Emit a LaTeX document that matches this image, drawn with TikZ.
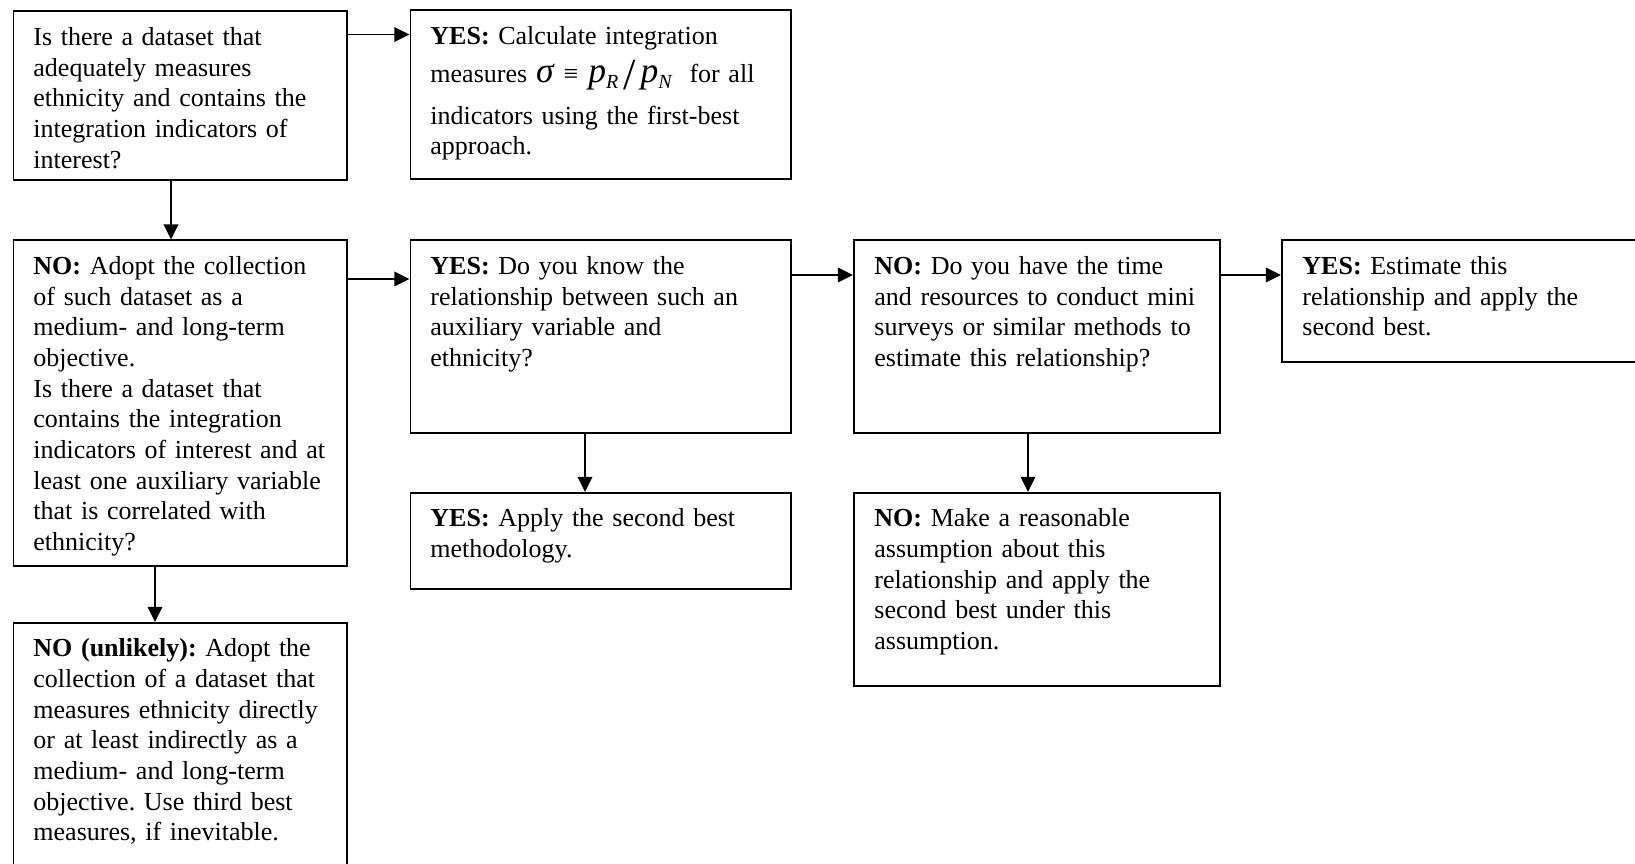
\documentclass[tikz,border=0pt]{standalone}
\usepackage{fontspec}
\setmainfont{Liberation Serif}
\usetikzlibrary{arrows.meta,calc}
\newcommand{\bigit}[1]{{\fontsize{16}{16}\selectfont\itshape #1}}
\newcommand{\subit}[1]{\raisebox{-2.8pt}{\fontsize{9}{9}\selectfont\itshape #1}}
\begin{document}
\frenchspacing
\begin{tikzpicture}[x=0.45pt,y=-0.45pt,
  box/.style={draw, line width=0.8pt, rectangle, inner sep=0pt, anchor=north west},
  txt/.style={anchor=base west, inner sep=0pt, align=left, text width=#1,
    font=\fontsize{11.7}{13.8}\selectfont\frenchspacing},
  txt/.default=140pt,
  arr/.style={line width=0.65pt, -{Triangle[length=6.8pt,width=6.6pt]}}]
\useasboundingbox (0,0) rectangle (1635,864);
\clip (0,0) rectangle (1635,864);

% boxes
\node[box, minimum width=150.1pt, minimum height=75.9pt] (A) at (12.5,10.4) {};
\node[box, minimum width=171.4pt, minimum height=76.0pt] (B) at (409.5,9.5) {};
\node[box, minimum width=150.1pt, minimum height=146.7pt] (C) at (12.5,239.5) {};
\node[box, minimum width=171.4pt, minimum height=86.6pt] (D) at (409.5,239.5) {};
\node[box, minimum width=171.4pt, minimum height=43.4pt] (E) at (409.5,492) {};
\node[box, minimum width=164.7pt, minimum height=86.6pt] (F) at (853,239.5) {};
\node[box, minimum width=185pt, minimum height=54.7pt] (G) at (1281,239.5) {};
\node[box, minimum width=164.7pt, minimum height=86.9pt] (H) at (853,492) {};
\node[box, minimum width=150.1pt, minimum height=120pt] (I) at (12.5,622) {};

% texts
\node[txt] (At) at ($(A.north west)+(20.5,35)$) {Is there a dataset that\\adequately measures\\ethnicity and contains the\\integration indicators of\\interest?};
\node[txt=170pt] (Bt) at ($(B.north west)+(20.5,35)$) {\textbf{YES:} Calculate integration\\[3.2pt]
measures\hspace{4pt}\raisebox{0pt}[0pt][0pt]{\bigit{σ}\hspace{4.5pt}≡\hspace{4.5pt}\bigit{p}\subit{R}\hspace{2.5pt}\raisebox{-3.4pt}{\fontsize{20}{20}\selectfont /}\hspace{2pt}\bigit{p}\subit{N}}\hspace{8pt}for all\\[5pt]
indicators using the first-best\\approach.};
\node[txt] (Ct) at ($(C.north west)+(20.5,35)$) {\textbf{NO:} Adopt the collection\\of such dataset as a\\medium- and long-term\\objective.\\Is there a dataset that\\contains the integration\\indicators of interest and at\\least one auxiliary variable\\that is correlated with\\ethnicity?};
\node[txt=160pt] (Dt) at ($(D.north west)+(20.5,35)$) {\textbf{YES:} Do you know the\\relationship between such an\\auxiliary variable and\\ethnicity?};
\node[txt=160pt] (Et) at ($(E.north west)+(20.5,35)$) {\textbf{YES:} Apply the second best\\methodology.};
\node[txt=155pt] (Ft) at ($(F.north west)+(21,35)$) {\textbf{NO:} Do you have the time\\and resources to conduct mini\\surveys or similar methods to\\estimate this relationship?};
\node[txt=160pt] (Gt) at ($(G.north west)+(21,35)$) {\textbf{YES:} Estimate this\\relationship and apply the\\second best.};
\node[txt=155pt] (Ht) at ($(H.north west)+(21,35)$) {\textbf{NO:} Make a reasonable\\assumption about this\\relationship and apply the\\second best under this\\assumption.};
\node[txt] (It) at ($(I.north west)+(20.5,35)$) {\textbf{NO (unlikely):} Adopt the\\collection of a dataset that\\measures ethnicity directly\\or at least indirectly as a\\medium- and long-term\\objective. Use third best\\measures, if inevitable.};

% connectors
\draw[arr] (A.east |- 0,34.5) -- (B.west |- 0,34.5);
\draw[arr] (A.south -| 171,0) -- (C.north -| 171,0);
\draw[arr] (C.east |- 0,279) -- (D.west |- 0,279);
\draw[arr] (D.south -| 585,0) -- (E.north -| 585,0);
\draw[arr] (D.east |- 0,275) -- (F.west |- 0,275);
\draw[arr] (F.east |- 0,275) -- (G.west |- 0,275);
\draw[arr] (F.south -| 1028,0) -- (H.north -| 1028,0);
\draw[arr] (C.south -| 155,0) -- (I.north -| 155,0);
\end{tikzpicture}
\end{document}
